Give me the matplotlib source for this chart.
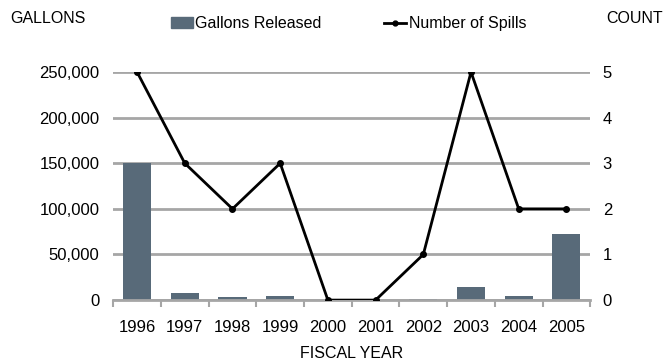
import matplotlib.pyplot as plt
from matplotlib.ticker import FuncFormatter, FixedLocator
from matplotlib.lines import Line2D
from matplotlib.patches import Patch

plt.rcParams['font.family'] = ['Liberation Sans', 'DejaVu Sans']

years = ['1996', '1997', '1998', '1999', '2000', '2001', '2002', '2003', '2004', '2005']
gallons = [150000, 8000, 3000, 4500, 0, 0, 1000, 14500, 5000, 73000]
spills = [5, 3, 2, 3, 0, 0, 1, 5, 2, 2]

bar_color = '#586a79'
grid_color = '#a6a6a6'

fig = plt.figure(figsize=(6.7, 3.62), dpi=100)
ax = fig.add_axes([0.169, 0.171, 0.712, 0.630])
x = range(len(years))

ax.bar(x, gallons, width=0.59, color=bar_color, zorder=2)
ax.set_ylim(0, 250000)
ax.set_xlim(-0.5, len(years) - 0.5)
ax.set_yticks(range(0, 250001, 50000))
ax.yaxis.set_major_formatter(FuncFormatter(lambda v, p: f'{int(v):,}'))
ax.grid(axis='y', color=grid_color, linewidth=2, zorder=0)
ax.set_axisbelow(True)

for s in ['top', 'left', 'right']:
    ax.spines[s].set_visible(False)
ax.spines['bottom'].set_color(grid_color)
ax.spines['bottom'].set_linewidth(2)

# year labels centred under bars, tick marks on the category boundaries
ax.set_xticks(list(x))
ax.set_xticklabels(years)
ax.xaxis.set_minor_locator(FixedLocator([i - 0.5 for i in range(len(years) + 1)]))
ax.tick_params(axis='x', which='major', length=0, pad=14, labelsize=12)
ax.tick_params(axis='x', which='minor', length=5, width=1.5, color=grid_color)
ax.tick_params(axis='y', length=0, pad=10, labelsize=12)
ax.set_xlabel('FISCAL YEAR', fontsize=11.5, labelpad=8)

ax2 = ax.twinx()
ax2.plot(x, spills, color='black', linewidth=2, marker='o', markersize=4, zorder=3)
ax2.set_ylim(0, 5)
ax2.set_yticks(range(0, 6))
for s in ['top', 'left', 'right', 'bottom']:
    ax2.spines[s].set_visible(False)
ax2.tick_params(axis='y', length=0, pad=9, labelsize=12)

fig.text(0.015, 0.949, 'GALLONS', fontsize=11.5, va='center', ha='left')
fig.text(0.99, 0.949, 'COUNT', fontsize=11.5, va='center', ha='right')

handles = [Patch(color=bar_color),
           Line2D([0], [0], color='black', linewidth=2, marker='o', markersize=3.5)]
fig.legend(handles, ['Gallons Released', 'Number of Spills'], ncol=2, frameon=False,
           loc='center', bbox_to_anchor=(0.52, 0.934), fontsize=11.5,
           handlelength=1.4, handletextpad=0.15, columnspacing=3.9)

fig.savefig('out.png', dpi=100)
